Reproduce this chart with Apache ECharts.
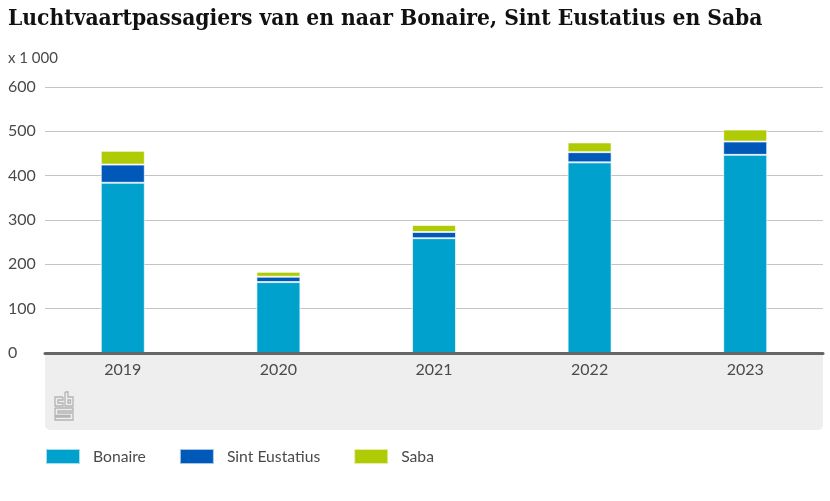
<!DOCTYPE html>
<html>
<head>
<meta charset="utf-8">
<style>
  html, body { margin: 0; padding: 0; background: #fff; }
  #chart { width: 830px; height: 501px; }
</style>
</head>
<body>
<div id="chart"></div>
<script src="https://cdn.jsdelivr.net/npm/echarts@6/dist/echarts.min.js"></script>
<script>
const years = ["2019", "2020", "2021", "2022", "2023"];
const bonaire = [384, 160, 259, 430, 447];
const sintEustatius = [41, 12, 14, 23, 30];
const saba = [31, 11, 16, 22, 27];

const textFont = "Lato";
const textColor = "#4a4a4a";

function barSeries(name, data, color) {
  return {
    name: name,
    type: "bar",
    stack: "total",
    data: data,
    barWidth: 44,
    itemStyle: { color: color, borderColor: "rgba(255,255,255,0.65)", borderWidth: 1 },
  };
}

// cbs logo, just outlines
const logoStyle = { stroke: "#b4b4b4", lineWidth: 1.3, fill: null };
function logoLine(points) {
  return { type: "polyline", shape: { points: points }, style: logoStyle };
}

const myChart = echarts.init(document.getElementById("chart"));
myChart.setOption({
  animation: false,
  backgroundColor: "#fff",
  textStyle: { fontFamily: textFont },
  title: [
    {
      text: "Luchtvaartpassagiers van en naar Bonaire, Sint Eustatius en Saba",
      left: 8,
      top: 8,
      padding: 0,
      textStyle: { fontFamily: "DejaVu Serif Condensed", fontSize: 22.6, fontWeight: "bold", color: "#111" },
    },
    {
      text: "x 1 000",
      left: 8,
      top: 51,
      padding: 0,
      textStyle: { fontFamily: textFont, fontSize: 15, fontWeight: "normal", color: textColor },
    },
  ],
  grid: { left: 45, right: 7, top: 87, bottom: 148 },
  legend: {
    left: 45,
    top: 448,
    padding: 0,
    itemWidth: 34,
    itemHeight: 15,
    itemGap: 33,
    icon: "rect",
    textStyle: { fontFamily: textFont, fontSize: 15.7, color: textColor, padding: [0, 0, 0, 8] },
    data: ["Bonaire", "Sint Eustatius", "Saba"],
  },
  xAxis: {
    type: "category",
    data: years,
    z: 5,
    axisTick: { show: false },
    axisLine: { lineStyle: { color: "#666", width: 3 } },
    axisLabel: { fontFamily: textFont, fontSize: 16, color: textColor, margin: 9 },
  },
  yAxis: {
    type: "value",
    min: 0,
    max: 600,
    interval: 100,
    axisLine: { show: false },
    axisTick: { show: false },
    axisLabel: { fontFamily: textFont, fontSize: 16, color: textColor, align: "left", margin: 37 },
    splitLine: { lineStyle: { color: "#c4c4c4", width: 1 } },
  },
  graphic: [
    {
      type: "rect",
      z: -1,
      shape: { x: 45, y: 353, width: 778, height: 77, r: [0, 0, 5, 5] },
      style: { fill: "#eeeeee" },
    },
    {
      type: "group",
      x: 54,
      y: 392,
      children: [
        // c
        logoLine([[9, 5], [1, 5], [1, 14], [9, 14], [9, 11], [4, 11], [4, 8], [9, 8], [9, 5]]),
        // b
        logoLine([[11, 0], [14, 0], [14, 5], [19, 5], [19, 14], [11, 14], [11, 0]]),
        { type: "rect", shape: { x: 14, y: 8, width: 2.5, height: 3 }, style: logoStyle },
        // s
        logoLine([[1, 16], [19, 16], [19, 19], [4, 19], [4, 21], [19, 21], [19, 28], [1, 28], [1, 25], [16, 25], [16, 23.5], [1, 23.5], [1, 16]]),
      ],
    },
  ],
  series: [
    barSeries("Bonaire", bonaire, "#00a1cd"),
    barSeries("Sint Eustatius", sintEustatius, "#0058b8"),
    barSeries("Saba", saba, "#afcb05"),
  ],
});
</script>
</body>
</html>
